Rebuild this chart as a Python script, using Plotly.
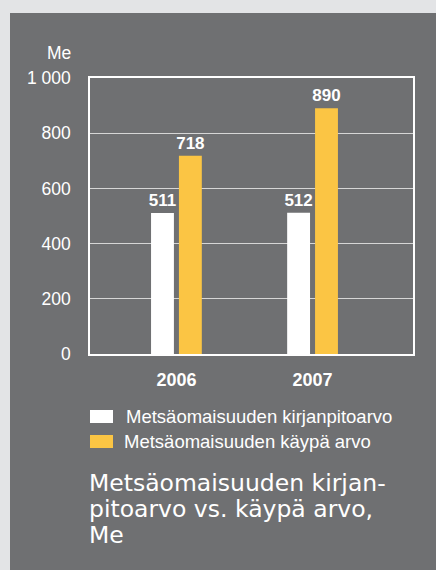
import plotly.graph_objects as go

# data
years = ['2006', '2007']
kirjanpitoarvo = [511, 512]
kaypa_arvo = [718, 890]
series_names = ['Metsäomaisuuden kirjanpitoarvo', 'Metsäomaisuuden käypä arvo']
series_colors = ['#ffffff', '#fbc544']
y_ticks = [0, 200, 400, 600, 800, 1000]
y_tick_labels = ['0', '200', '400', '600', '800', '1 000']
title_lines = ['Metsäomaisuuden kirjan-', 'pitoarvo vs. käypä arvo,', 'Me']
unit_text = 'Me'

W, H = 436, 570
# plot area in pixels
L, R, T, B = 90, 413, 78, 354


def px_x(px):
    return (px - L) / (R - L)


def px_y(py):
    return (B - py) / (B - T)


panel = '#6f7072'
font = 'Liberation Sans, Arial, sans-serif'

fig = go.Figure()
for name, vals, col in zip(series_names, [kirjanpitoarvo, kaypa_arvo], series_colors):
    fig.add_trace(go.Bar(
        x=years, y=vals, name=name,
        marker=dict(color=col, line=dict(width=0)),
        text=vals, texttemplate='<b>%{text}</b>', textposition='outside',
        textfont=dict(color='#ffffff', size=17, family=font),
        constraintext='none', cliponaxis=False, showlegend=False,
        hoverinfo='skip',
    ))

shapes = [dict(type='rect', xref='paper', yref='paper',
               x0=px_x(10), x1=px_x(W + 5), y0=px_y(H + 5), y1=px_y(13),
               fillcolor=panel, line=dict(width=0), layer='below')]
annotations = [
    dict(text=unit_text, xref='paper', yref='paper', x=px_x(73), y=px_y(53),
         xanchor='right', yanchor='middle', showarrow=False,
         font=dict(size=17.5, color='#ffffff', family=font)),
]
# title lines placed one by one for a tighter line height
for i, line in enumerate(title_lines):
    annotations.append(dict(text=line, xref='paper', yref='paper',
                            x=px_x(87), y=px_y(483 + i * 26), xanchor='left', yanchor='middle',
                            showarrow=False,
                            font=dict(size=23.5, color='#ffffff', family='DejaVu Sans, sans-serif')))

# legend drawn by hand so the swatches can be wide rectangles
for i, (name, col) in enumerate(zip(series_names, series_colors)):
    top = 410 + i * 25
    shapes.append(dict(type='rect', xref='paper', yref='paper',
                       x0=px_x(90), x1=px_x(113), y0=px_y(top + 13), y1=px_y(top),
                       fillcolor=col, line=dict(width=0)))
    annotations.append(dict(text=name, xref='paper', yref='paper',
                            x=px_x(124 - 2 * i), y=px_y(top + 6.5), xanchor='left', yanchor='middle',
                            showarrow=False,
                            font=dict(size=18.5, color='#ffffff', family=font)))

fig.update_layout(
    width=W, height=H,
    margin=dict(l=L, r=W - R, t=T, b=H - B, pad=0),
    paper_bgcolor='#e3e4e6',
    plot_bgcolor='rgba(0,0,0,0)',
    barmode='group', bargap=0.59, bargroupgap=0.18,
    shapes=shapes, annotations=annotations,
    hovermode=False,
    xaxis=dict(type='category', range=[-0.635, 1.738], showgrid=False,
               showline=True, linecolor='#ffffff', linewidth=1.5, mirror=True,
               ticks='', ticklabelstandoff=9, fixedrange=True,
               tickfont=dict(size=18, color='#ffffff', family=font, weight='bold')),
    yaxis=dict(range=[0, 1000], tickvals=y_ticks, ticktext=y_tick_labels,
               showgrid=True, gridcolor='#d6d6d6', gridwidth=1, zeroline=False,
               showline=True, linecolor='#ffffff', linewidth=1.5, mirror=True,
               ticks='', ticklabelstandoff=14, fixedrange=True,
               tickfont=dict(size=17.5, color='#ffffff', family=font)),
    font=dict(family=font, color='#ffffff'),
)

# drop the page's default body margin so the figure sits at 0,0
fig.write_html('out.html', config={'displayModeBar': False},
               post_script="document.body.style.margin='0';"
                           "document.body.style.background='#e3e4e6';")
